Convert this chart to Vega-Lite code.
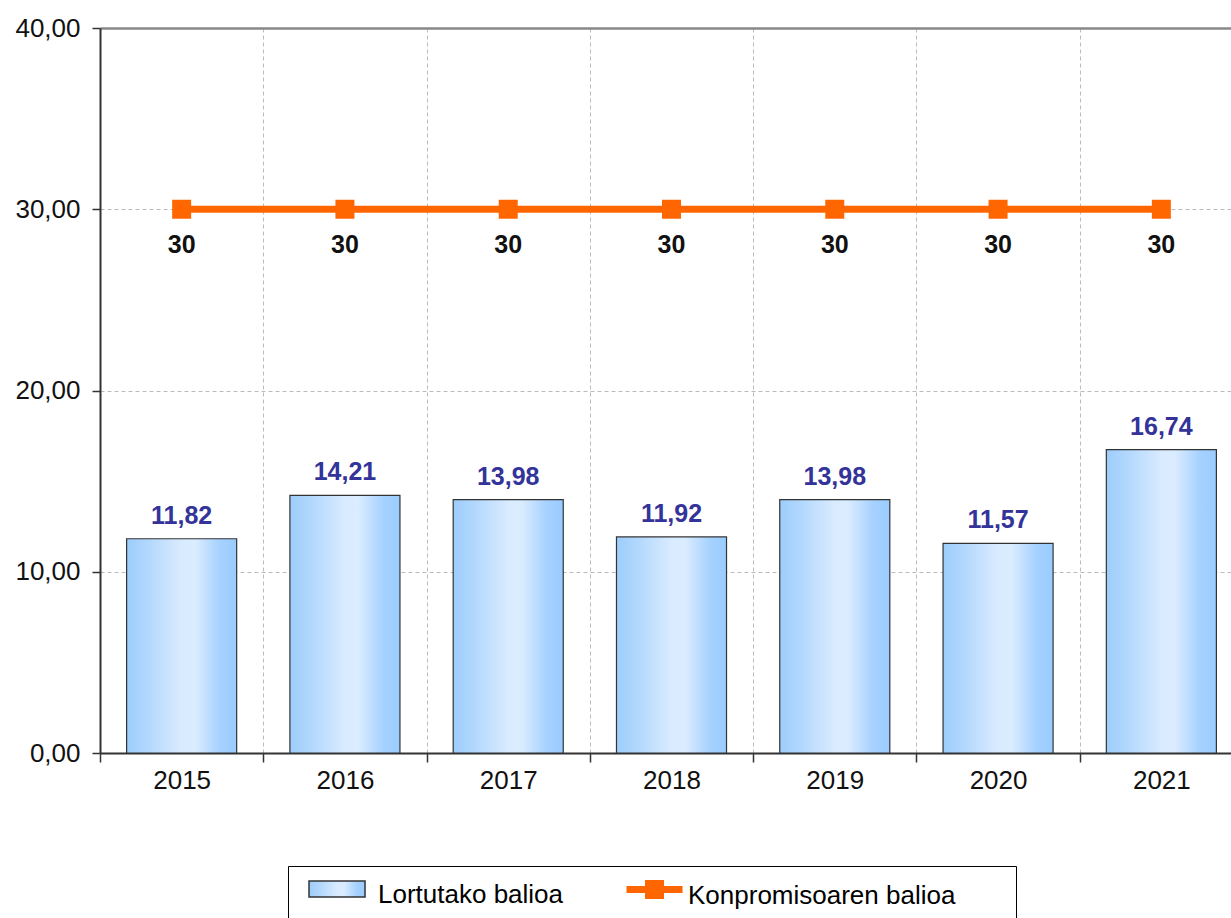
{
  "$schema": "https://vega.github.io/schema/vega-lite/v6.json",
  "width": 1131,
  "height": 725,
  "autosize": {"type": "none"},
  "padding": {"left": 100, "top": 28, "right": 0, "bottom": 165},
  "background": "white",
  "config": {
    "locale": {"number": {"decimal": ",", "thousands": ".", "grouping": [3], "currency": ["", " €"]}},
    "view": {"stroke": null},
    "font": "Liberation Sans"
  },
  "data": {
    "values": [
      {"year": "2015", "series": "Lortutako balioa", "value": 11.82},
      {"year": "2016", "series": "Lortutako balioa", "value": 14.21},
      {"year": "2017", "series": "Lortutako balioa", "value": 13.98},
      {"year": "2018", "series": "Lortutako balioa", "value": 11.92},
      {"year": "2019", "series": "Lortutako balioa", "value": 13.98},
      {"year": "2020", "series": "Lortutako balioa", "value": 11.57},
      {"year": "2021", "series": "Lortutako balioa", "value": 16.74},
      {"year": "2015", "series": "Konpromisoaren balioa", "value": 30},
      {"year": "2016", "series": "Konpromisoaren balioa", "value": 30},
      {"year": "2017", "series": "Konpromisoaren balioa", "value": 30},
      {"year": "2018", "series": "Konpromisoaren balioa", "value": 30},
      {"year": "2019", "series": "Konpromisoaren balioa", "value": 30},
      {"year": "2020", "series": "Konpromisoaren balioa", "value": 30},
      {"year": "2021", "series": "Konpromisoaren balioa", "value": 30}
    ]
  },
  "encoding": {
    "x": {
      "field": "year", "type": "nominal", "sort": null,
      "scale": {"range": [0, 1143], "paddingInner": 0, "paddingOuter": 0},
      "axis": {
        "title": null,
        "tickBand": "extent",
        "grid": true,
        "gridDash": [4, 3],
        "gridColor": "#bbbbbb",
        "labelFontSize": 26,
        "labelColor": "#111111",
        "labelAngle": 0,
        "labelPadding": 5,
        "tickSize": 9,
        "tickColor": "#333333",
        "tickWidth": 1.5,
        "domainColor": "#333333",
        "domainWidth": 2
      }
    },
    "y": {
      "field": "value",
      "type": "quantitative",
      "scale": {"domain": [0, 40], "nice": false, "zero": true},
      "axis": {
        "title": null,
        "values": [0, 10, 20, 30, 40],
        "format": ".2f",
        "labelFontSize": 26,
        "labelColor": "#111111",
        "labelPadding": 12,
        "tickSize": 8,
        "tickColor": "#333333",
        "tickWidth": 1.5,
        "domainColor": "#333333",
        "domainWidth": 2,
        "grid": true,
        "gridColor": {"condition": {"test": "datum.value === 40", "value": "#888888"}, "value": "#bbbbbb"},
        "gridDash": {"condition": {"test": "datum.value === 40", "value": []}, "value": [4, 3]},
        "gridWidth": {"condition": {"test": "datum.value === 40", "value": 2.5}, "value": 1}
      }
    }
  },
  "layer": [
    {
      "transform": [{"filter": "datum.series === 'Lortutako balioa'"}],
      "mark": {
        "type": "bar",
        "stroke": "#333333",
        "strokeWidth": 1.2,
        "width": {"band": 0.674},
        "fill": {
          "gradient": "linear",
          "x1": 0, "y1": 0, "x2": 1, "y2": 0,
          "stops": [
            {"offset": 0, "color": "#9ccdfb"},
            {"offset": 0.2, "color": "#b3d8fd"},
            {"offset": 0.5, "color": "#d9ebff"},
            {"offset": 0.62, "color": "#dbecff"},
            {"offset": 0.85, "color": "#a6d1ff"},
            {"offset": 1, "color": "#99ccff"}
          ]
        }
      },
      "encoding": {
        "strokeDash": {
          "field": "series",
          "type": "nominal",
          "scale": {"domain": ["Lortutako balioa"], "range": [[1, 0]]},
          "legend": {
            "title": " ",
            "titleOrient": "right",
            "titleFontSize": 20,
            "titlePadding": 439,
            "orient": "none",
            "legendX": 188,
            "legendY": 838,
            "padding": 14,
            "strokeColor": "#000000",
            "labelFontSize": 26,
            "labelColor": "#000000",
            "labelLimit": 500,
            "labelOffset": 46,
            "symbolSize": 784,
            "symbolType": "M-0.571,-1H3.43V0.14H-0.571Z",
            "encode": {"labels": {"dy": {"value": -12}}}
          }
        }
      }
    },
    {
      "transform": [{"filter": "datum.series === 'Lortutako balioa'"}],
      "mark": {"type": "text", "fontWeight": "bold", "fontSize": 25, "color": "#333399", "baseline": "alphabetic", "dy": -15},
      "encoding": {
        "text": {"field": "value", "type": "quantitative", "format": ".2f"}
      }
    },
    {
      "transform": [{"filter": "datum.series === 'Konpromisoaren balioa'"}],
      "mark": {"type": "line", "strokeWidth": 7},
      "encoding": {
        "stroke": {
          "field": "series",
          "type": "nominal",
          "scale": {"domain": ["Konpromisoaren balioa"], "range": ["#FF6600"]},
          "legend": {
            "title": null,
            "orient": "none",
            "legendX": 503,
            "legendY": 836,
            "padding": 14,
            "labelFontSize": 26,
            "labelColor": "#000000",
            "labelLimit": 500,
            "labelOffset": 36,
            "symbolSize": 784,
            "symbolStrokeWidth": 7,
            "symbolType": "M-0.571,-0.43H3.43 M1.0,-0.86H1.86V0H1.0Z M1.36,-0.5H1.5V-0.36H1.36Z",
            "encode": {"labels": {"dy": {"value": -17}}}
          }
        }
      }
    },
    {
      "transform": [{"filter": "datum.series === 'Konpromisoaren balioa'"}],
      "mark": {"type": "point", "shape": "square", "filled": true, "size": 361, "color": "#FF6600", "opacity": 1}
    },
    {
      "transform": [{"filter": "datum.series === 'Konpromisoaren balioa'"}],
      "mark": {"type": "text", "fontWeight": "bold", "fontSize": 25, "color": "#111111", "baseline": "alphabetic", "dy": 44},
      "encoding": {
        "text": {"field": "value", "type": "quantitative", "format": "d"}
      }
    }
  ]
}
